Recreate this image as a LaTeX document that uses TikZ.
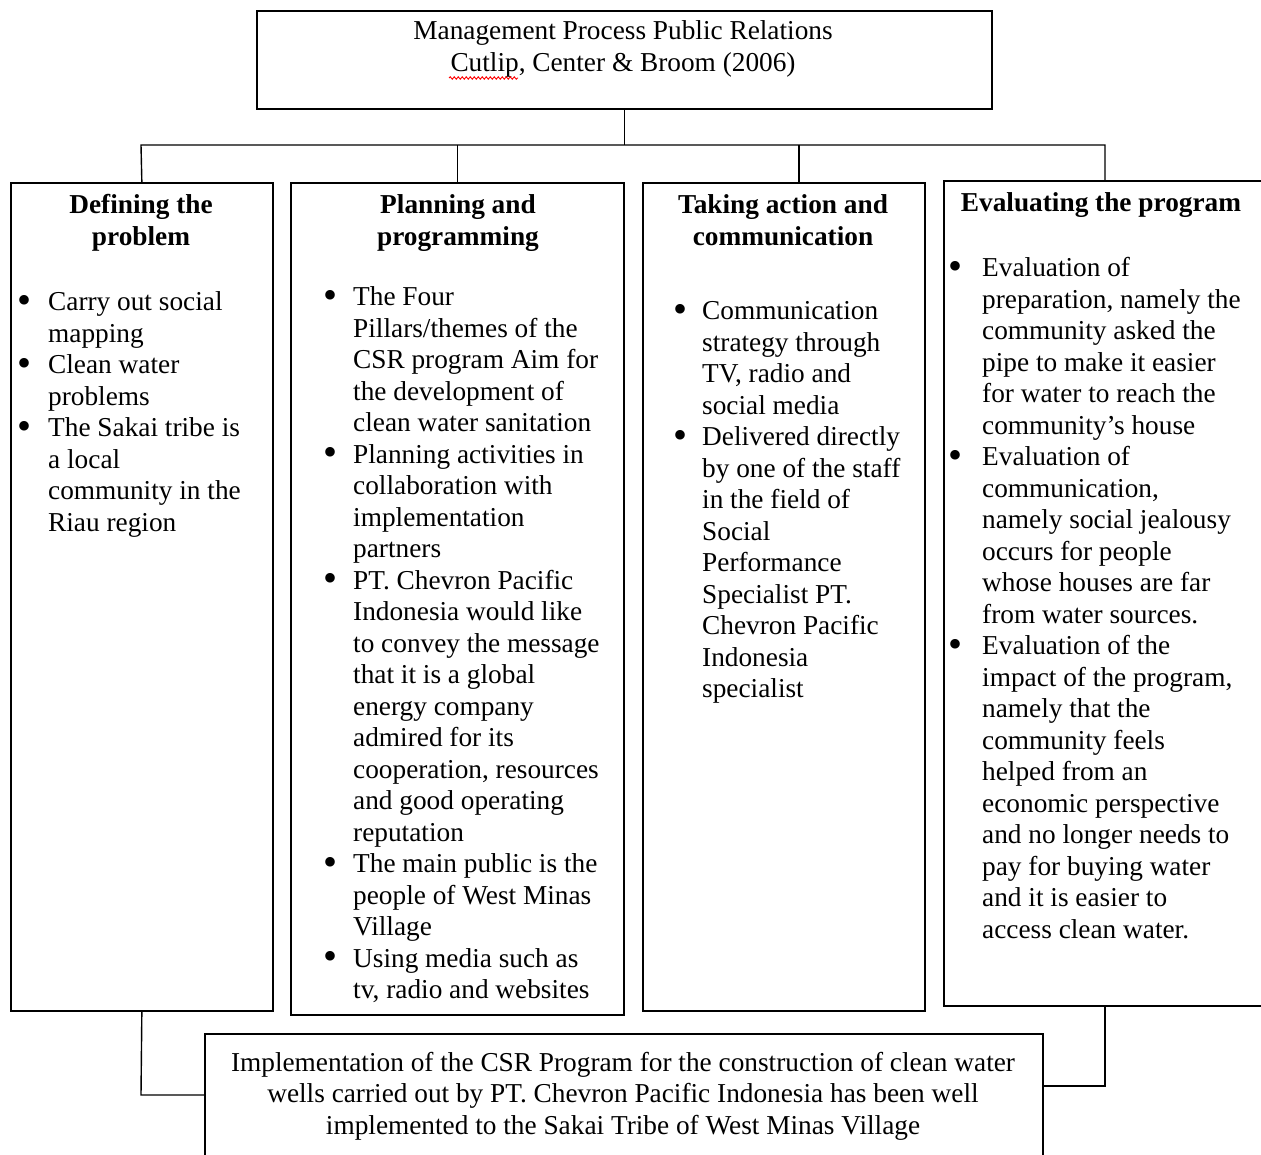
\documentclass[tikz,border=0pt]{standalone}
\usepackage{fontspec}
\setmainfont{Liberation Serif}
\usetikzlibrary{decorations.pathmorphing}
\newcommand\mysz{\fontsize{27.3}{31.5}\selectfont}
\newcommand\bul{\raisebox{-2.5pt}{\fontsize{40}{40}\selectfont\textbullet}}
\begin{document}
\begin{tikzpicture}[x=1pt,y=-1pt,
  box/.style={draw, line width=1.7pt, inner sep=0pt, anchor=north west},
  conn/.style={line width=1.4pt, line join=miter},
  txt/.style={inner sep=0pt, anchor=base west, font=\mysz},
  ttl/.style={inner sep=0pt, anchor=base, font=\mysz\bfseries},
  ctr/.style={inner sep=0pt, anchor=base, font=\mysz}]
\useasboundingbox (0,0) rectangle (1261,1155);
\clip (0,0) rectangle (1261,1155);
\fill[white] (0,0) rectangle (1261,1155);

% boxes
\node[box, minimum width=735pt, minimum height=98pt] (top) at (256,10) {};
\node[box, minimum width=262pt, minimum height=828pt] (b1) at (10,182) {};
\node[box, minimum width=333pt, minimum height=832pt] (b2) at (290,182) {};
\node[box, minimum width=282pt, minimum height=828pt] (b3) at (642,182) {};
\node[box, minimum width=322pt, minimum height=825pt] (b4) at (943,180) {};
\node[box, minimum width=838pt, minimum height=140pt] (bot) at (204,1033) {};

% connectors
\coordinate (busL) at (141,145);
\coordinate (busR) at (1105,145);
\coordinate (d3) at (799,145);
\draw[conn] (top.south) -- (top.south |- busL);
\draw[conn] (b1.north) -- (busL) -- (busR) -- (busR |- b4.north);
\draw[conn] (b2.north |- busL) -- (b2.north);
\draw[conn] (d3) -- (d3 |- b3.north);
\coordinate (jl) at (141,1095);
\coordinate (jr) at (1105,1086);
\draw[conn] (b1.south) -- (jl) -- (jl -| bot.west);
\draw[conn] (jr |- b4.south) -- (jr) -- (jr -| bot.east);

% top text
\node[ctr] (toptxt) at (623,40) {\begin{tabular}[t]{@{}c@{}}Management Process Public Relations\\ Cutlip, Center \& Broom (2006)\end{tabular}};
\draw[red, line width=0.9pt, decorate, decoration={snake, amplitude=1.2pt, segment length=4pt}] (449,78) -- (518,78);

% titles
\node[ttl] (t1) at (141,214) {\begin{tabular}[t]{@{}c@{}}Defining the\\ problem\end{tabular}};
\node[ttl] (t2) at (458,214) {\begin{tabular}[t]{@{}c@{}}Planning and\\ programming\end{tabular}};
\node[ttl] (t3) at (783,214) {\begin{tabular}[t]{@{}c@{}}Taking action and\\ communication\end{tabular}};
\node[ttl] (t4) at (1101,212) {Evaluating the program};

% bullet lists
\node[txt] (l1) at (17,311) {\begin{tabular}[t]{@{}p{31pt}@{}l@{}}
\bul & Carry out social\\
 & mapping\\
\bul & Clean water\\
 & problems\\
\bul & The Sakai tribe is\\
 & a local\\
 & community in the\\
 & Riau region
\end{tabular}};

\node[txt] (l2) at (323,306) {\begin{tabular}[t]{@{}p{30pt}@{}l@{}}
\bul & The Four\\
 & Pillars/themes of the\\
 & CSR program Aim for\\
 & the development of\\
 & clean water sanitation\\
\bul & Planning activities in\\
 & collaboration with\\
 & implementation\\
 & partners\\
\bul & PT. Chevron Pacific\\
 & Indonesia would like\\
 & to convey the message\\
 & that it is a global\\
 & energy company\\
 & admired for its\\
 & cooperation, resources\\
 & and good operating\\
 & reputation\\
\bul & The main public is the\\
 & people of West Minas\\
 & Village\\
\bul & Using media such as\\
 & tv, radio and websites
\end{tabular}};

\node[txt] (l3) at (673,320) {\begin{tabular}[t]{@{}p{29pt}@{}l@{}}
\bul & Communication\\
 & strategy through\\
 & TV, radio and\\
 & social media\\
\bul & Delivered directly\\
 & by one of the staff\\
 & in the field of\\
 & Social\\
 & Performance\\
 & Specialist PT.\\
 & Chevron Pacific\\
 & Indonesia\\
 & specialist
\end{tabular}};

\node[txt] (l4) at (948,277) {\begin{tabular}[t]{@{}p{34pt}@{}l@{}}
\bul & Evaluation of\\
 & preparation, namely the\\
 & community asked the\\
 & pipe to make it easier\\
 & for water to reach the\\
 & community’s house\\
\bul & Evaluation of\\
 & communication,\\
 & namely social jealousy\\
 & occurs for people\\
 & whose houses are far\\
 & from water sources.\\
\bul & Evaluation of the\\
 & impact of the program,\\
 & namely that the\\
 & community feels\\
 & helped from an\\
 & economic perspective\\
 & and no longer needs to\\
 & pay for buying water\\
 & and it is easier to\\
 & access clean water.
\end{tabular}};

% bottom text
\node[ctr] (bottxt) at (623,1071) {\begin{tabular}[t]{@{}c@{}}Implementation of the CSR Program for the construction of clean water\\ wells carried out by PT. Chevron Pacific Indonesia has been well\\ implemented to the Sakai Tribe of West Minas Village\end{tabular}};
\end{tikzpicture}
\end{document}
